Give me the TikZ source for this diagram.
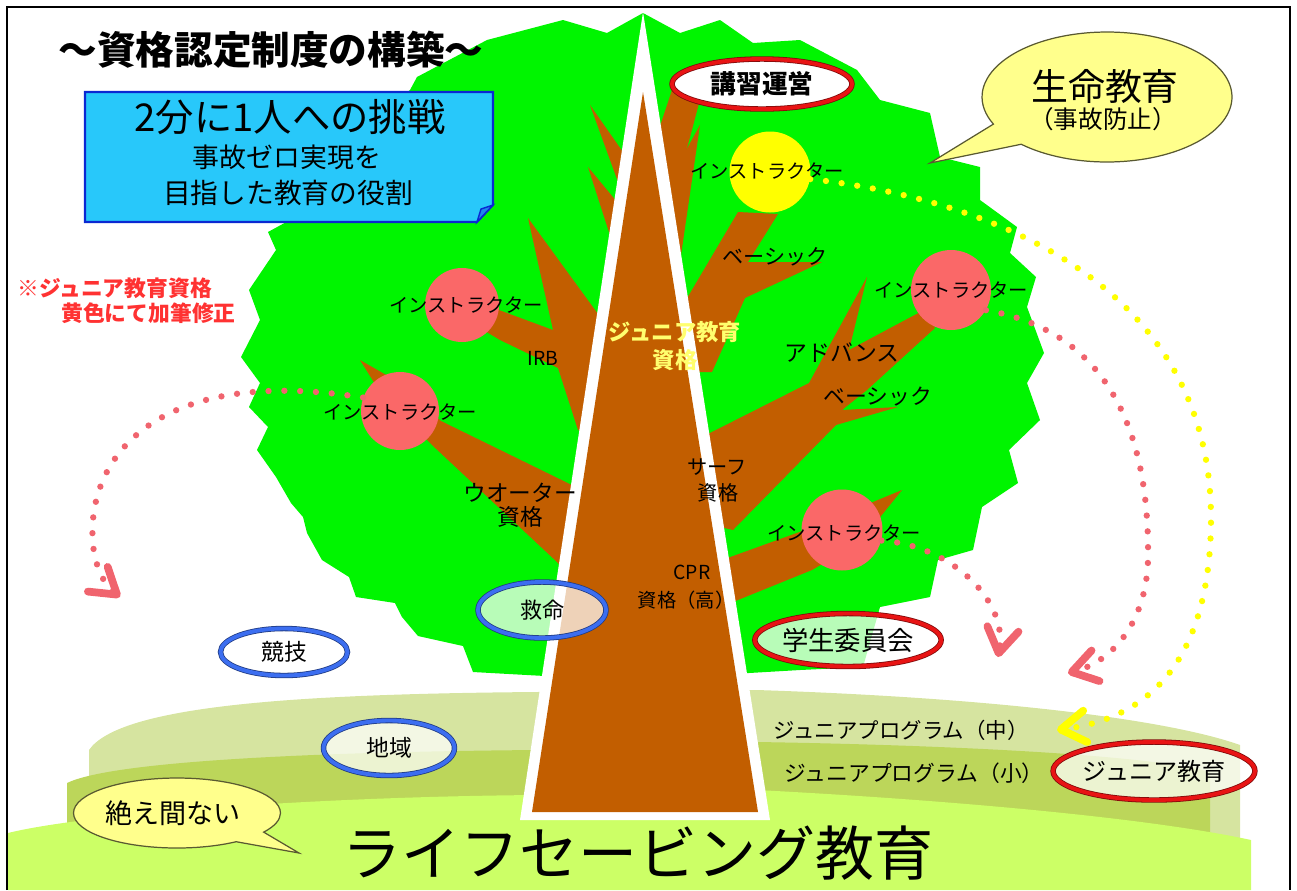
\documentclass[tikz,border=0pt]{standalone}
\usepackage{fontspec}
\setmainfont{Noto Sans CJK JP}
\usetikzlibrary{arrows.meta,shapes.geometric,shapes.callouts}

\definecolor{leaf}{RGB}{0,245,0}
\definecolor{bark}{RGB}{194,94,0}
\definecolor{applered}{RGB}{250,104,104}
\definecolor{dotyellow}{RGB}{255,255,0}
\definecolor{dotpink}{RGB}{240,100,110}
\definecolor{sky}{RGB}{40,200,250}
\definecolor{navy}{RGB}{10,40,210}
\definecolor{hillfront}{RGB}{204,255,102}
\definecolor{hillmid}{RGB}{188,214,90}
\definecolor{hillback}{RGB}{214,228,160}
\definecolor{cream}{RGB}{255,255,140}
\definecolor{rimred}{RGB}{232,20,20}
\definecolor{rimblue}{RGB}{60,110,240}
\definecolor{notered}{RGB}{255,50,50}
\definecolor{trunkgold}{RGB}{255,255,110}

\newcommand\fsz[1]{\fontsize{#1}{#1}\selectfont}

\tikzset{
  ball/.style={circle, inner sep=0pt, minimum size=#1},
  ring/.style={ellipse, inner sep=0pt, fill=white, fill opacity=0.72, text opacity=1,
    draw=#1!55!black, double=#1, double distance=2.2pt, line width=0.45pt},
  dots/.style={draw=#1, line width=3.6pt, line cap=round, dash pattern=on 0pt off 9pt,
    -{Straight Barb[length=14pt,width=18pt,line width=4.4pt,round]}},
  bubble/.style={ellipse callout, fill=cream, draw=cream!35!black, line width=0.7pt,
    inner sep=0pt, callout pointer arc=22},
  lbl/.style={inner sep=0pt, font=\fsz{#1}},
  boldlbl/.style={inner sep=0pt, font=\fsz{#1}\bfseries},
}

\begin{document}
\begin{tikzpicture}[x=0.02cm,y=-0.02cm]
\useasboundingbox (0,0) rectangle (1297,890);

% ground, back to front
\fill[hillback] (89,850) -- (89,750) .. controls (120,705) and (300,694) .. (536,692)
  -- (757,690) .. controls (1000,698) and (1170,720) .. (1240,745) -- (1240,850) -- cycle;
\fill[hillmid] (67,850) -- (67,783) .. controls (110,762) and (300,752) .. (536,750)
  -- (757,742) .. controls (950,745) and (1150,755) .. (1210,772) -- (1210,850) -- cycle;
\fill[hillfront] (8,890) -- (8,833) .. controls (80,815) and (300,797) .. (536,795)
  -- (757,790) .. controls (950,800) and (1150,818) .. (1251,840) -- (1251,890) -- cycle;

% crown
\fill[leaf] (487,40) -- (563,20) -- (607,33) -- (643,13) -- (680,33) -- (720,20) -- (753,43)
  -- (800,40) -- (857,70) -- (880,100) -- (930,113) -- (940,157) -- (980,167) -- (980,200)
  -- (1017,227) -- (1010,253) -- (1036,277) -- (1027,307) -- (1044,353) -- (1027,383)
  -- (1040,420) -- (1009,450) -- (1018,483) -- (982,507) -- (973,550) -- (938,560)
  -- (930,597) -- (880,607) -- (863,667) -- (800,670) -- (749,673)
  -- (545,676) -- (473,672) -- (463,646) -- (418,636) -- (402,617) -- (395,603)
  -- (356,597) -- (349,577) -- (322,560) -- (307,533) -- (303,517) -- (291,503)
  -- (276,477) -- (257,450) -- (268,427) -- (249,407) -- (260,383) -- (241,357)
  -- (260,320) -- (249,290) -- (276,250) -- (268,232) -- (290,220) -- (330,150)
  -- (410,90) -- (417,77) -- cycle;

% branches
\fill[bark] (590,105) -- (632,165) -- (630,215) -- cycle;
\fill[bark] (588,167) -- (632,220) -- (626,285) -- cycle;
\fill[bark] (528,218) -- (606,325) -- (602,440) -- (578,430) -- (558,368) -- (500,340)
  -- (470,322) -- (480,303) -- (553,330) -- cycle;
\fill[bark] (360,360) -- (395,380) -- (441,421) -- (582,490) -- (568,575) -- (557,562)
  -- (432,445) -- (380,392) -- cycle;
\fill[bark] (672,90) -- (702,92) -- (668,220) -- (652,150) -- cycle;
\fill[bark] (700,125) -- (680,262) -- (664,240) -- (664,190) -- cycle;
\fill[bark] (738,212) -- (778,214) -- (748,262) -- (822,262) -- (745,298) -- (712,372)
  -- (686,372) -- (683,305) -- cycle;
\fill[bark] (702,437) -- (809,383) -- (867,277) -- (849,350) -- (924,310) -- (935,328)
  -- (867,390) -- (842,410) -- (898,407) -- (836,425) -- (733,530) -- (712,525) -- cycle;
\fill[bark] (722,560) -- (805,530) -- (902,490) -- (860,542) -- (812,570) -- (733,602) -- cycle;

% fruit
\node[ball=1.62cm, fill=dotyellow] (ballY) at (770,172) {};
\node[ball=1.48cm, fill=applered] (ballUL) at (462,305) {};
\node[ball=1.56cm, fill=applered] (ballLL) at (400,411) {};
\node[ball=1.6cm, fill=applered] (ballR) at (951,290) {};
\node[ball=1.62cm, fill=applered] (ballLR) at (842,530) {};

% trunk
\fill[white] (643,12) -- (770,820) -- (520,820) -- cycle;
\fill[bark] (643,92) -- (758,812) -- (532,812) -- cycle;

% labels on the tree
\node[lbl=11] (instY) at (767,171) {インストラクター};
\node[lbl=11] (instUL) at (466,305) {インストラクター};
\node[lbl=11] (instLL) at (400,412) {インストラクター};
\node[lbl=11] (instR) at (951,290) {インストラクター};
\node[lbl=11] (instLR) at (844,533) {インストラクター};
\node[lbl=12] (basic1) at (775,257) {ベーシック};
\node[lbl=12.4] (basic2) at (878,397) {ベーシック};
\node[lbl=13] (advance) at (842,353) {アドバンス};
\node[boldlbl=12.7, text=trunkgold] (juniorQ) at (675,332) {ジュニア教育};
\node[boldlbl=12.7, text=trunkgold] (juniorQb) at (675,360) {資格};
\node[lbl=11] (irb) at (543,358) {IRB};
\node[lbl=12.9] (water) at (520,493) {ウオーター};
\node[lbl=12.9] (waterb) at (520,517) {資格};
\node[lbl=11.5] (surf) at (717,467) {サーフ};
\node[lbl=11.5] (surfb) at (718,493) {資格};
\node[lbl=11] (cpr) at (692,572) {CPR};
\node[lbl=11] (cprb) at (686,600) {資格（高）};

% rings
\node[ring=rimred, fill opacity=1, minimum width=3.6cm, minimum height=1cm,
  font=\fsz{14.6}\bfseries] (training) at (762,84) {講習運営};
\node[ring=rimblue, minimum width=2.56cm, minimum height=1.12cm, font=\fsz{12.5}]
  (rescue) at (542,610) {救命};
\node[ring=rimred, minimum width=3.64cm, minimum height=1.06cm, font=\fsz{15}]
  (council) at (848,640) {学生委員会};
\node[ring=rimblue, minimum width=2.54cm, minimum height=0.94cm, font=\fsz{13}]
  (compete) at (284,652) {競技};
\node[ring=rimblue, minimum width=2.62cm, minimum height=1.1cm, font=\fsz{13}]
  (region) at (389,748) {地域};
\node[ring=rimred, minimum width=3.7cm, minimum height=1.16cm, font=\fsz{13.7}]
  (juniorEdu) at (1154,771) {ジュニア教育};

% ground labels
\node[lbl=12.2] (progMid) at (901,730) {ジュニアプログラム（中）};
\node[lbl=12.4] (progSmall) at (914,773) {ジュニアプログラム（小）};
\node[lbl=33.6] (lifesaving) at (638,853) {ライフセービング教育};

% headline and blue card
\node[boldlbl=22] (title) at (271,50) {～資格認定制度の構築～};
\filldraw[fill=sky, draw=navy, line width=1.2pt] (85,92) -- (493,92) -- (493,205)
  -- (477,222) -- (85,222) -- cycle;
\filldraw[fill=sky!60!navy, draw=navy, line width=0.8pt] (493,205) -- (477,222) -- (481,209) -- cycle;
\node[lbl=21.8] (challenge) at (290,117) {2分に1人への挑戦};
\node[lbl=15.3] (goal) at (287,157) {事故ゼロ実現を};
\node[lbl=15.8] (goalb) at (288,193) {目指した教育の役割};

% note in red
\node[boldlbl=12.4, text=notered, anchor=west] (note) at (17,288) {※ジュニア教育資格};
\node[boldlbl=12.4, text=notered, anchor=west] (noteb) at (61,313) {黄色にて加筆修正};

% speech bubbles
\node[bubble, minimum width=5cm, minimum height=2.6cm,
  callout absolute pointer={(930,163)}] (lifeBubble) at (1107,97) {};
\node[lbl=21] (lifeEdu) at (1105,86) {生命教育};
\node[lbl=14] (lifeEdub) at (1103,119) {（事故防止）};
\node[bubble, minimum width=4.14cm, minimum height=1.4cm,
  callout absolute pointer={(299,853)}] (endlessBubble) at (177,813) {};
\node[lbl=15.4] (endless) at (173,813) {絶え間ない};

% dotted arrows
\coordinate (tipL) at (120,597);
\coordinate (tipR) at (1068,673);
\coordinate (tipLR) at (998,657);
\coordinate (tipY) at (1057,730);
\draw[dots=dotpink] (ballLL.160) .. controls (160,365) and (85,455) .. (93,545)
  .. controls (96,570) and (105,585) .. (tipL);
\draw[dots=dotpink] (ballR.-30) .. controls (1100,330) and (1150,420) .. (1148,560)
  .. controls (1146,625) and (1110,662) .. (tipR);
\draw[dots=dotpink] (ballLR.-15) .. controls (950,545) and (1008,600) .. (tipLR);
\draw[dots=dotyellow] (ballY.-10) .. controls (1000,200) and (1212,290) .. (1211,520)
  .. controls (1210,660) and (1150,718) .. (tipY);

% frame
\draw[line width=1.6pt] (7,890) -- (7,7) -- (1290,7) -- (1290,890);
\end{tikzpicture}
\end{document}
